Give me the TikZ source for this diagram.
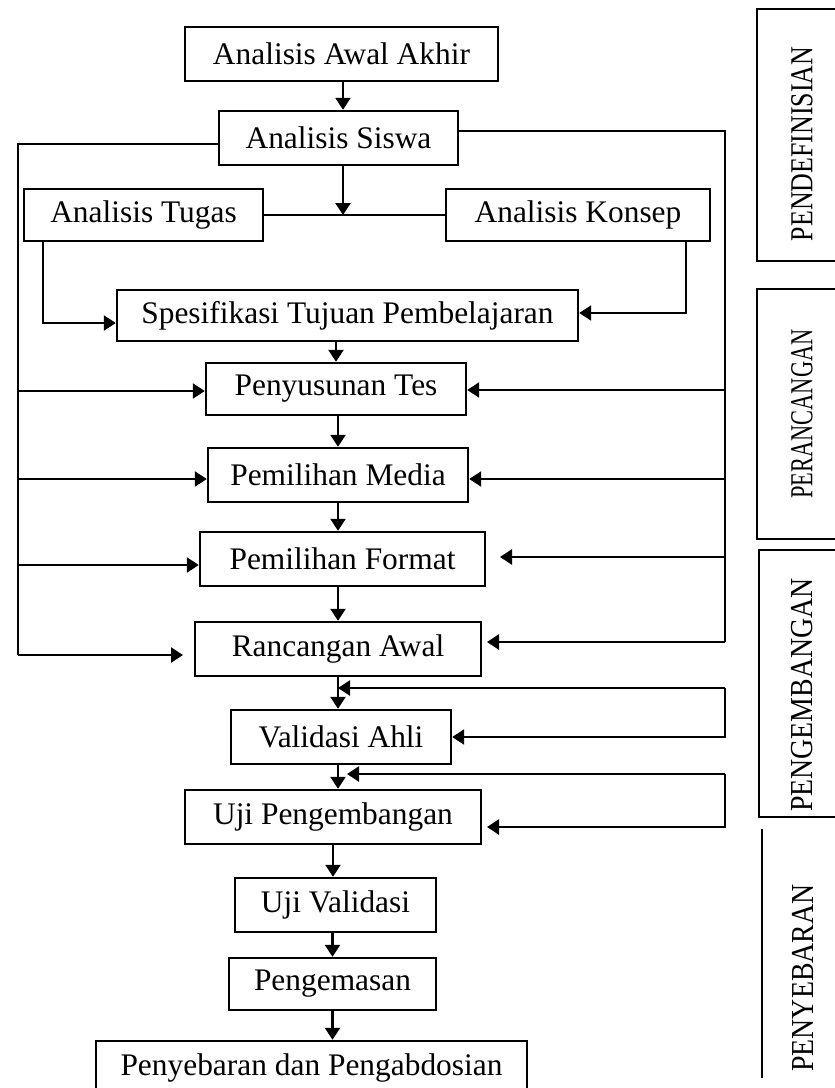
\documentclass[tikz,border=0pt]{standalone}
\usepackage{fontspec}
\setmainfont{Liberation Serif}
\usetikzlibrary{arrows.meta}
\begin{document}
\begin{tikzpicture}[x=0.5pt,y=-0.5pt,
  box/.style={draw, line width=1.2pt, inner sep=0pt, font=\fontsize{15.7}{18}\selectfont},
  ln/.style={line width=1.2pt},
  arr/.style={ln, -{Triangle[length=6pt,width=7.5pt]}},
  side/.style={font=\fontsize{16}{18}\selectfont, rotate=90, inner sep=0pt}
]
\useasboundingbox[fill=white] (0,0) rectangle (835,1088);
\clip (0,0) rectangle (835,1088);

% main boxes
\node[box, minimum width=156.5pt, minimum height=27pt] (aaa) at (341.5,54) {Analisis Awal Akhir};
\node[box, minimum width=119.5pt, minimum height=27pt] (siswa) at (338.5,138) {Analisis Siswa};
\node[box, minimum width=119.5pt, minimum height=26pt] (tugas) at (143.5,215) {Analisis Tugas};
\node[box, minimum width=132pt, minimum height=26pt] (konsep) at (578,215) {Analisis Konsep};
\node[box, minimum width=230.5pt, minimum height=25.5pt] (spes) at (347.5,315.5) {Spesifikasi Tujuan Pembelajaran};
\node[box, minimum width=130pt, minimum height=26pt] (tes) at (336,389) {Penyusunan Tes};
\node[box, minimum width=130pt, minimum height=27pt] (media) at (338,475) {Pemilihan Media};
\node[box, minimum width=142.5pt, minimum height=27pt] (format) at (342.5,559) {Pemilihan Format};
\node[box, minimum width=143pt, minimum height=27pt] (ranc) at (338,649) {Rancangan Awal};
\node[box, minimum width=110pt, minimum height=27pt] (valid) at (341,737) {Validasi Ahli};
\node[box, minimum width=148pt, minimum height=27pt] (ujip) at (333,817) {Uji Pengembangan};
\node[box, minimum width=100.5pt, minimum height=27pt] (ujiv) at (335.5,905) {Uji Validasi};
\node[box, minimum width=103.5pt, minimum height=26pt] (kemas) at (332.5,984) {Pengemasan};
\node[box, minimum width=215.5pt, minimum height=27pt] (sebar) at (311.5,1068) {Penyebaran dan Pengabdosian};

% side phase boxes
\draw[ln] (845,9) -- (757,9) -- (757,261) -- (845,261);
\draw[ln] (845,289) -- (757,289) -- (757,539) -- (845,539);
\draw[ln] (845,550) -- (759,550) -- (759,817) -- (845,817);
\draw[ln] (762,829) -- (762,1078);
\node[side] (p1) at (802,144) {\scalebox{0.81}[1]{PENDEFINISIAN}};
\node[side] (p2) at (802,414) {\scalebox{0.70}[1]{PERANCANGAN}};
\node[side] (p3) at (802,695) {\scalebox{0.87}[1]{PENGEMBANGAN}};
\node[side] (p4) at (803,978) {\scalebox{0.87}[1]{PENYEBARAN}};

% top part
\coordinate (J) at (343,215);
\draw[arr] (J |- aaa.south) -- (J |- siswa.north);
\draw[ln] (tugas.east) -- (konsep.west);
\draw[arr] (J |- siswa.south) -- (J);
\coordinate (T2) at (43,323);
\draw[arr] (T2 |- tugas.south) -- (T2) -- (T2 -| spes.west);
\coordinate (K2) at (686,313);
\draw[arr] (K2 |- konsep.south) -- (K2) -- (K2 -| spes.east);

% left trunk
\coordinate (Ltop) at (18,144);
\coordinate (L1) at (18,391);
\coordinate (L2) at (18,479);
\coordinate (L3) at (18,565);
\coordinate (L4) at (18,655);
\coordinate (L4e) at (183,655);
\draw[ln] (Ltop -| siswa.west) -- (Ltop) -- (L4);
\draw[arr] (L1) -- (L1 -| tes.west);
\draw[arr] (L2) -- (L2 -| media.west);
\draw[arr] (L3) -- (L3 -| format.west);
\draw[arr] (L4) -- (L4e);

% right trunk
\coordinate (Rtop) at (725,131);
\coordinate (R1) at (725,390);
\coordinate (R2) at (725,479);
\coordinate (R3) at (725,557);
\coordinate (R4) at (725,642);
\coordinate (R3e) at (500,557);
\coordinate (R4e) at (487,642);
\draw[ln] (Rtop -| siswa.east) -- (Rtop) -- (R4);
\draw[arr] (R1) -- (R1 -| tes.east);
\draw[arr] (R2) -- (R2 -| media.east);
\draw[arr] (R3) -- (R3e);
\draw[arr] (R4) -- (R4e);

% main chain
\draw[arr] (tes.north |- spes.south) -- (tes.north);
\draw[arr] (media.north |- tes.south) -- (media.north);
\draw[arr] (media.south) -- (media.south |- format.north);
\draw[arr] (ranc.north |- format.south) -- (ranc.north);
\draw[arr] (ranc.south) -- (ranc.south |- valid.north);
\draw[arr] (ranc.south |- valid.south) -- (ranc.south |- ujip.north);
\draw[arr] (ujip.south) -- (ujip.south |- ujiv.north);
\draw[arr] (kemas.north |- ujiv.south) -- (kemas.north);
\draw[arr] (kemas.south) -- (kemas.south |- sebar.north);

% feedback loops
\coordinate (A1) at (725,688);
\draw[arr] (A1) -- (ranc.south |- A1);
\draw[arr] (A1) -- (A1 |- valid.east) -- (valid.east);
\coordinate (B1) at (725,774);
\coordinate (B1e) at (347,774);
\coordinate (B2) at (725,827);
\coordinate (B2e) at (487,827);
\draw[arr] (B1) -- (B1e);
\draw[arr] (B1) -- (B2) -- (B2e);
\end{tikzpicture}
\end{document}
